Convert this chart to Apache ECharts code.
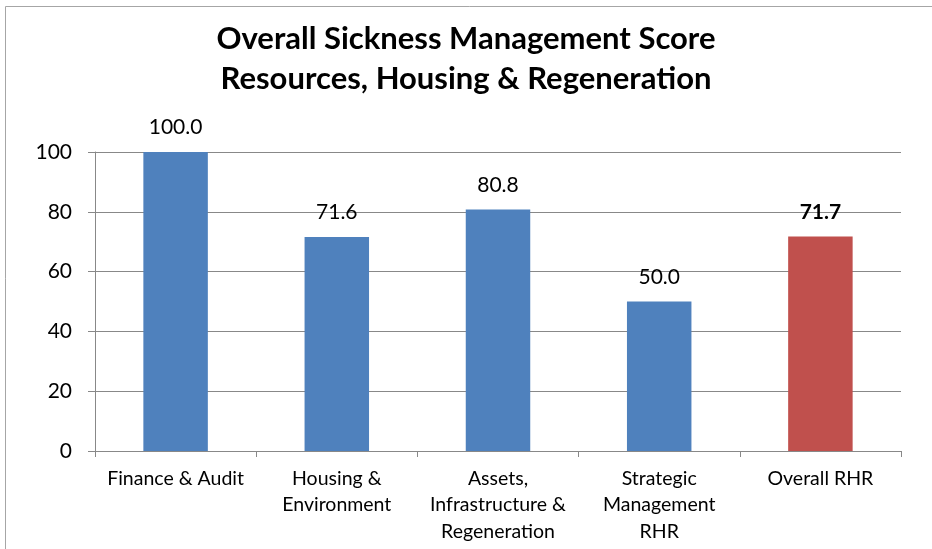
<!DOCTYPE html>
<html>
<head>
<meta charset="utf-8">
<script src="https://cdn.jsdelivr.net/npm/echarts@6/dist/echarts.min.js"></script>
<style>
  body { margin: 0; background: #fff; }
  #main { width: 932px; height: 549px; }
</style>
</head>
<body>
<div id="main"></div>
<script>
var categories = ['Finance & Audit', 'Housing &\nEnvironment', 'Assets,\nInfrastructure &\nRegeneration', 'Strategic\nManagement\nRHR', 'Overall RHR'];
var scores = [100.0, 71.6, 80.8, 50.0, 71.7];
var yTicks = [0, 20, 40, 60, 80, 100];

var blue = '#4F81BD';
var red = '#C0504D';
var font = 'Lato, "Open Sans", sans-serif';

var myChart = echarts.init(document.getElementById('main'));

// last bar (overall) is red with a bold label
var barData = scores.map(function (v, i) {
    var last = i === scores.length - 1;
    return {
        value: v,
        itemStyle: { color: last ? red : blue },
        label: { fontWeight: last ? 'bold' : 'normal' }
    };
});

var option = {
    animation: false,
    textStyle: { fontFamily: font },
    title: {
        text: 'Overall Sickness Management Score\nResources, Housing & Regeneration',
        left: 'center',
        top: 14,
        padding: [5, 21, 5, 5],
        textStyle: {
            fontFamily: font,
            fontSize: 31,
            fontWeight: 'bold',
            color: '#000',
            lineHeight: 40
        }
    },
    graphic: [{
        type: 'rect',
        shape: { x: 5.5, y: 6.5, width: 960, height: 600 },
        style: { fill: 'none', stroke: '#a6a6a6', lineWidth: 1 },
        silent: true
    }],
    grid: { left: 95, right: 31, top: 152, bottom: 98 },
    xAxis: {
        type: 'category',
        data: categories,
        axisLine: { lineStyle: { color: '#888', width: 1 } },
        axisTick: { show: true, length: 6, lineStyle: { color: '#888' } },
        axisLabel: {
            color: '#000',
            fontSize: 19.5,
            lineHeight: 26.5,
            margin: 14,
            interval: 0
        }
    },
    yAxis: {
        type: 'value',
        min: 0,
        max: 100,
        interval: 20,
        axisLine: { show: true, lineStyle: { color: '#888', width: 1 } },
        axisTick: { show: true, length: 7, lineStyle: { color: '#888' } },
        splitLine: { lineStyle: { color: '#888', width: 1 } },
        axisLabel: {
            color: '#000',
            fontSize: 21,
            margin: 23,
            formatter: function (v) { return yTicks.indexOf(v) >= 0 ? String(v) : ''; }
        }
    },
    series: [{
        type: 'bar',
        data: barData,
        barWidth: '40%',
        label: {
            show: true,
            position: 'top',
            distance: 14,
            color: '#000',
            fontSize: 21,
            formatter: function (p) { return p.value.toFixed(1); }
        }
    }]
};

myChart.setOption(option);
</script>
</body>
</html>
